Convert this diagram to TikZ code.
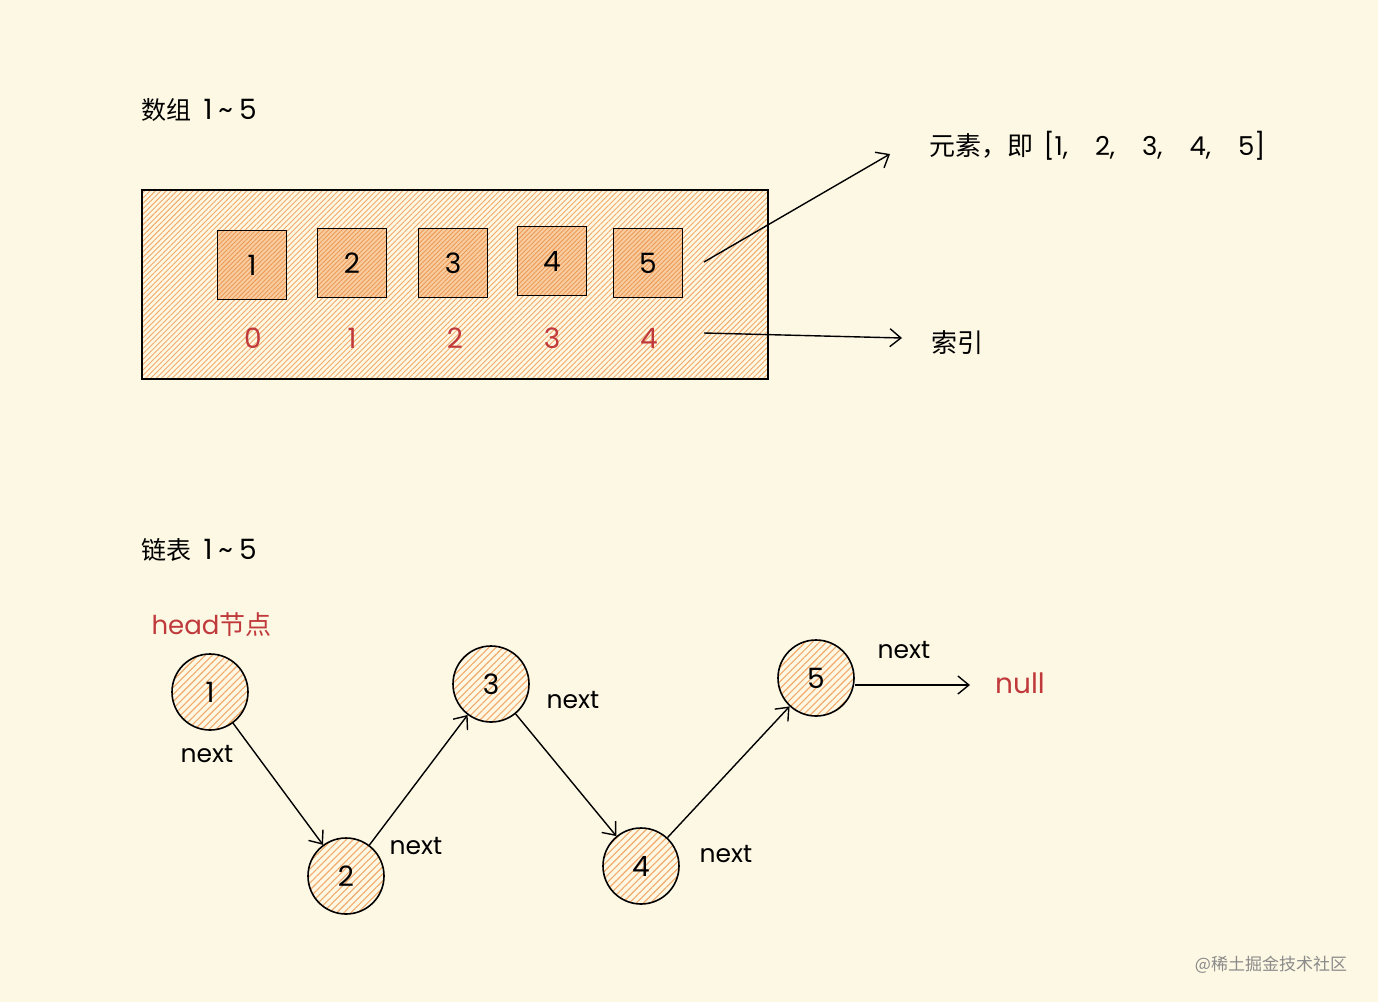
\documentclass[tikz,border=0pt]{standalone}
\usepackage{fontspec}
\setmainfont{Noto Sans CJK SC}
\newfontfamily\hand{Poppins}
\usetikzlibrary{arrows.meta,patterns.meta}
\definecolor{bg}{HTML}{FDF8E4}
\definecolor{hatch}{HTML}{F2A96A}
\definecolor{hatchdark}{HTML}{EE9A55}
\definecolor{redtxt}{HTML}{C0393B}
\definecolor{wm}{HTML}{8A8A8A}
\tikzset{
  bigbox/.style={draw=black, line width=1.6pt, preaction={fill=bg},
    pattern={Lines[angle=45,distance=3.8pt,line width=0.9pt]}, pattern color=hatch},
  cell/.style={draw=black, line width=1.6pt, minimum width=69pt, minimum height=69pt, inner sep=0pt,
    preaction={fill=hatch!55!bg},
    pattern={Lines[angle=45,distance=3.2pt,line width=0.9pt]}, pattern color=hatchdark,
    font=\hand\fontsize{28}{30}\selectfont},
  lnode/.style={circle, draw=black, line width=1.6pt, minimum size=76pt, inner sep=0pt,
    preaction={fill=bg},
    pattern={Lines[angle=45,distance=5pt,line width=1.1pt]}, pattern color=hatch,
    font=\hand\fontsize{28}{30}\selectfont},
  idx/.style={text=redtxt, font=\hand\fontsize{28}{30}\selectfont},
  title/.style={font=\fontsize{25}{28}\selectfont, anchor=west},
  lbl/.style={font=\fontsize{26}{28}\selectfont},
  nxt/.style={font=\hand\fontsize{25}{26}\selectfont},
  arr/.style={line width=1.4pt, -{Straight Barb[length=11pt,width=18pt,line width=1.4pt]}},
}
\newcommand{\rng}{\hspace{12pt}{\hand\fontsize{28}{28}\selectfont 1\hspace{6pt}\textasciitilde\hspace{6pt}5}}
\begin{document}
\begin{tikzpicture}[x=1pt,y=-1pt]
\useasboundingbox (0,0) rectangle (1378,1002);
\fill[bg] (0,0) rectangle (1378,1002);

% array section
\node[title] (t1) at (138,110) {数组\rng};
\draw[bigbox] (142,190) rectangle (768,379);
\node[cell] (a1) at (252,265) {1};
\node[cell] (a2) at (352,263) {2};
\node[cell] (a3) at (453,263) {3};
\node[cell] (a4) at (552,261) {4};
\node[cell] (a5) at (648,263) {5};
\node[idx] (i0) at (253,338) {0};
\node[idx] (i1) at (352,338) {1};
\node[idx] (i2) at (455,338) {2};
\node[idx] (i3) at (552,338) {3};
\node[idx] (i4) at (649,338) {4};

\coordinate (e0) at (704,262);
\coordinate (e1) at (890,154);
\coordinate (s0) at (704,333);
\coordinate (s1) at (902,338);
\draw[arr] (e0) -- (e1);
\draw[arr] (s0) -- (s1);
\node[lbl, anchor=west] (elem) at (926,146) {元素，即\hspace{10pt}{\hand [1,\hspace{27pt}2,\hspace{27pt}3,\hspace{27pt}4,\hspace{27pt}5]}};
\node[lbl, anchor=west] (sy) at (928,343) {索引};

% linked list section
\node[title] (t2) at (138,550) {链表\rng};
\node[idx, anchor=west, font=\fontsize{26}{28}\selectfont] (head) at (148,625) {{\hand head}节点};

\node[lnode] (c1) at (210,692) {1};
\node[lnode] (c2) at (346,876) {2};
\node[lnode] (c3) at (491,684) {3};
\node[lnode] (c4) at (641,866) {4};
\node[lnode] (c5) at (816,678) {5};

\draw[arr] (c1) -- (c2);
\draw[arr] (c2) -- (c3);
\draw[arr] (c3) -- (c4);
\draw[arr] (c4) -- (c5);
\coordinate (nl) at (970,685);
\draw[arr] (c5.east |- 0,685) -- (nl);
\node[idx] (null) at (1020,683) {null};

\node[nxt] (n1) at (207,754) {next};
\node[nxt] (n2) at (416,846) {next};
\node[nxt] (n3) at (573,700) {next};
\node[nxt] (n4) at (726,854) {next};
\node[nxt] (n5) at (904,650) {next};

\node[text=wm, font=\fontsize{17}{18}\selectfont] (wmk) at (1271,965) {@稀土掘金技术社区};
\end{tikzpicture}
\end{document}
